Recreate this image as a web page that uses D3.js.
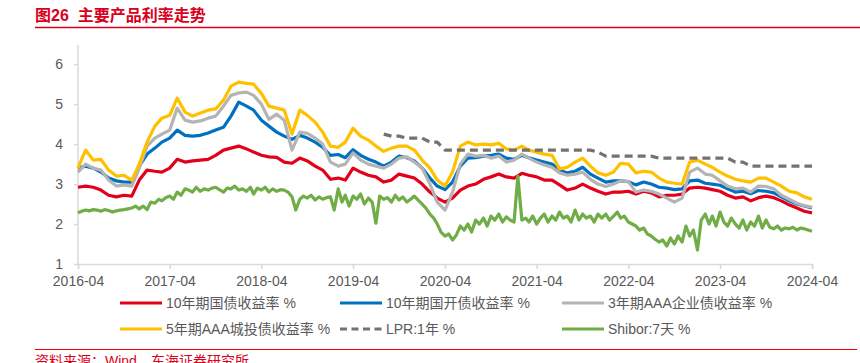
<!DOCTYPE html>
<html>
<head>
<meta charset="utf-8">
<script src="https://cdn.jsdelivr.net/npm/d3@7"></script>
<style>
  body { margin: 0; background: #fff; }
  text { font-family: "Liberation Sans", "Noto Sans CJK SC", sans-serif; }
</style>
</head>
<body>
<svg id="chart" width="860" height="363"></svg>
<script>
// monthly, 2016-04 .. 2024-04
let cgb10 = [2.92,2.95,2.92,2.85,2.72,2.68,2.72,2.70,3.10,3.35,3.32,3.30,3.40,3.62,3.55,3.58,3.60,3.62,3.72,3.85,3.90,3.95,3.88,3.80,
  3.72,3.68,3.67,3.55,3.52,3.65,3.58,3.45,3.35,3.12,3.15,3.10,3.40,3.30,3.22,3.18,3.05,3.10,3.25,3.20,3.15,3.00,2.80,2.65,
  2.55,2.65,2.85,2.95,3.00,3.12,3.18,3.25,3.18,3.15,3.27,3.22,3.18,3.10,3.10,2.98,2.85,2.90,3.00,2.90,2.82,2.75,2.80,2.80,
  2.82,2.75,2.82,2.78,2.68,2.72,2.72,2.75,2.90,2.92,2.90,2.86,2.82,2.72,2.65,2.68,2.58,2.66,2.70,2.66,2.58,2.48,2.40,2.32,2.28];
let cdb10 = [3.40,3.45,3.40,3.30,3.15,3.08,3.05,3.05,3.45,3.75,3.90,4.05,4.15,4.35,4.22,4.20,4.22,4.28,4.35,4.42,4.70,5.05,4.95,4.85,
  4.60,4.45,4.30,4.20,4.12,4.22,4.15,4.05,3.92,3.72,3.74,3.66,3.86,3.72,3.62,3.55,3.45,3.55,3.70,3.66,3.58,3.40,3.15,2.95,
  2.86,3.05,3.45,3.65,3.66,3.70,3.72,3.75,3.65,3.62,3.72,3.66,3.60,3.55,3.50,3.35,3.28,3.32,3.42,3.25,3.15,3.05,3.08,3.08,
  3.06,2.98,3.05,3.00,2.92,2.90,2.86,2.88,3.08,3.10,3.02,3.00,2.97,2.88,2.80,2.82,2.76,2.84,2.82,2.78,2.68,2.58,2.50,2.45,2.40];
let corp3 = [3.30,3.50,3.40,3.35,3.10,2.95,2.98,2.95,3.40,3.95,4.15,4.25,4.35,4.90,4.60,4.55,4.58,4.65,4.70,4.95,5.22,5.28,5.30,5.22,
  5.00,4.62,4.75,4.60,3.85,4.30,4.27,4.15,4.00,3.55,3.45,3.50,3.78,3.60,3.50,3.45,3.40,3.50,3.65,3.68,3.55,3.40,3.00,2.55,
  2.35,2.80,3.50,3.75,3.70,3.72,3.65,3.70,3.55,3.60,3.75,3.65,3.55,3.48,3.42,3.28,3.22,3.25,3.30,3.12,3.00,2.94,3.00,3.08,
  3.06,2.80,2.85,2.82,2.75,2.65,2.55,2.65,3.30,3.40,3.25,3.22,3.08,2.95,2.88,2.90,2.80,2.95,2.94,2.88,2.72,2.62,2.52,2.46,2.42];
let ucb5 = [3.40,3.85,3.60,3.62,3.35,3.20,3.22,3.10,3.50,4.05,4.45,4.65,4.72,5.15,4.80,4.70,4.78,4.85,4.88,5.10,5.45,5.55,5.52,5.50,
  5.27,4.95,4.90,4.85,4.25,4.85,4.72,4.55,4.30,3.95,3.92,4.05,4.40,4.20,4.10,3.95,3.82,3.90,3.95,3.95,3.85,3.60,3.40,3.10,
  2.95,3.30,3.95,4.05,3.98,4.00,3.98,4.02,3.88,3.85,3.95,3.85,3.80,3.75,3.72,3.38,3.42,3.55,3.65,3.45,3.28,3.22,3.30,3.52,
  3.50,3.28,3.32,3.30,3.15,3.05,3.02,3.00,3.55,3.60,3.50,3.42,3.30,3.20,3.12,3.08,3.05,3.15,3.15,3.05,2.95,2.82,2.78,2.68,2.62];
// monthly, 2019-08 .. 2024-04
let lpr1y = [4.25,4.20,4.20,4.15,4.15,4.15,4.05,4.05,3.85,3.85,3.85,3.85,3.85,3.85,3.85,3.85,3.85,3.85,3.85,3.85,3.85,3.85,3.85,3.85,
  3.85,3.85,3.85,3.85,3.80,3.70,3.70,3.70,3.70,3.70,3.70,3.70,3.65,3.65,3.65,3.65,3.65,3.65,3.65,3.65,3.65,3.65,3.55,3.55,
  3.45,3.45,3.45,3.45,3.45,3.45,3.45,3.45,3.45];
// half-monthly, 2016-04 .. 2024-04
let shibor7d = [2.28,2.32,2.35,2.33,2.36,2.35,2.32,2.36,2.34,2.30,2.33,2.35,2.36,2.38,2.40,2.45,2.38,2.45,
  2.36,2.55,2.52,2.62,2.58,2.66,2.70,2.62,2.80,2.72,2.88,2.85,2.80,2.92,2.82,2.88,2.85,2.90,2.92,2.86,2.80,2.90,2.88,2.95,
  2.85,2.88,2.82,2.92,2.75,2.90,2.85,2.92,2.80,2.88,2.82,2.86,2.85,2.80,2.68,2.35,2.62,2.70,2.65,2.72,2.60,2.68,2.62,2.66,
  2.68,2.35,2.88,2.55,2.72,2.45,2.70,2.62,2.75,2.50,2.65,2.55,2.02,2.70,2.62,2.66,2.55,2.72,2.60,2.68,2.55,2.62,2.70,2.60,
  2.50,2.40,2.25,2.15,2.00,1.80,1.70,1.75,1.60,1.72,1.95,1.85,2.00,1.80,2.10,2.00,2.15,1.95,2.20,2.10,2.25,2.05,2.18,2.10,
  2.05,3.20,2.10,2.15,2.05,2.20,2.00,2.15,2.25,2.05,2.20,2.10,2.30,2.15,2.20,2.05,2.35,2.10,2.25,2.15,2.20,2.05,2.25,2.15,
  2.25,2.10,2.20,2.30,2.15,2.20,2.05,2.00,1.95,1.85,1.90,1.75,1.70,1.62,1.55,1.60,1.45,1.65,1.50,1.70,1.55,1.95,1.70,1.85,
  1.35,2.10,2.25,2.00,2.20,1.95,2.30,2.05,1.95,2.15,2.00,1.90,2.10,1.85,2.05,1.95,2.20,1.90,2.10,1.92,1.88,1.95,1.85,1.90,
  1.88,1.92,1.85,1.90,1.88,1.85,1.82];

let xTickLabels = ["2016-04","2017-04","2018-04","2019-04","2020-04","2021-04","2022-04","2023-04","2024-04"];
let yTicks = [1, 2, 3, 4, 5, 6];
let seriesNames = ["10年期国债收益率 %", "10年期国开债收益率 %", "3年期AAA企业债收益率 %",
  "5年期AAA城投债收益率 %", "LPR:1年 %", "Shibor:7天 %"];
let seriesColors = ["#e3001b", "#0070c0", "#b4b4b4", "#ffc000", "#767171", "#70ad47"];

let svg = d3.select("#chart");
let parseMonth = d3.timeParse("%Y-%m");
let monthly = (start, n) => d3.range(n).map(i => new Date(start.getFullYear(), start.getMonth() + i, 1));
let halfMonthly = (start, n) => d3.range(n).map(j => new Date(start.getFullYear(), start.getMonth() + Math.floor(j / 2), j % 2 ? 16 : 1));

let x = d3.scaleTime()
  .domain([parseMonth("2016-04"), parseMonth("2024-04")])
  .range([78, 812]);
let y = d3.scaleLinear().domain([1, 6.48]).range([264, 45]);

// title + rules
svg.append("text").attr("x", 35).attr("y", 21)
  .attr("fill", "#d9001b").attr("font-size", 16).attr("font-weight", "bold")
  .style("white-space", "pre")
  .text("图26\u00a0\u00a0主要产品利率走势");
svg.append("line").attr("x1", 35).attr("x2", 860).attr("y1", 27.5).attr("y2", 27.5)
  .attr("stroke", "#d9001b").attr("stroke-width", 1.5);
svg.append("line").attr("x1", 35).attr("x2", 857).attr("y1", 349.5).attr("y2", 349.5)
  .attr("stroke", "#ff0000").attr("stroke-width", 1);
svg.append("text").attr("x", 35).attr("y", 366)
  .attr("fill", "#d9001b").attr("font-size", 14)
  .text("资料来源：Wind，东海证券研究所");

// axes
let xAxis = svg.append("g").attr("transform", "translate(0,264)")
  .call(d3.axisBottom(x).tickValues(xTickLabels.map(parseMonth))
    .tickFormat(d3.timeFormat("%Y-%m")).tickSize(5).tickPadding(7));
let yAxis = svg.append("g").attr("transform", "translate(78,0)")
  .call(d3.axisLeft(y).tickValues(yTicks).tickFormat(d3.format("d")).tickSize(4).tickPadding(11));
[xAxis, yAxis].forEach(a => {
  a.select(".domain").attr("stroke", "#d9d9d9").attr("stroke-width", 1.5);
  a.selectAll(".tick line").attr("stroke", "#d9d9d9").attr("stroke-width", 1.5);
  a.selectAll(".tick text").attr("fill", "#595959").attr("font-size", 14)
    .style("font-family", "'Liberation Sans', sans-serif");
});
yAxis.select(".domain").attr("d", `M0,${y(1)}V${y(6.48)}`);

// lines
let start = parseMonth("2016-04");
let seriesData = [
  { values: cgb10, dates: monthly(start, cgb10.length) },
  { values: cdb10, dates: monthly(start, cdb10.length) },
  { values: corp3, dates: monthly(start, corp3.length) },
  { values: ucb5, dates: monthly(start, ucb5.length) },
  { values: lpr1y, dates: monthly(parseMonth("2019-08"), lpr1y.length), dashed: true },
  { values: shibor7d, dates: halfMonthly(start, shibor7d.length) }
];
let line = d3.line().x(d => x(d[0])).y(d => y(d[1]));

seriesData.forEach((s, k) => {
  svg.append("path")
    .datum(d3.zip(s.dates, s.values))
    .attr("d", line)
    .attr("fill", "none")
    .attr("stroke", seriesColors[k])
    .attr("stroke-width", 3.2)
    .attr("stroke-linejoin", "round")
    .attr("stroke-dasharray", s.dashed ? "8,5" : null);
});

// legend
let legendCols = [120, 340, 562];
let legendRows = [303, 329];
seriesNames.forEach((name, k) => {
  let lx = legendCols[k % 3], ly = legendRows[Math.floor(k / 3)];
  let g = svg.append("g").attr("transform", `translate(${lx},${ly})`);
  g.append("line").attr("x1", 0).attr("x2", 42).attr("y1", 0).attr("y2", 0)
    .attr("stroke", seriesColors[k]).attr("stroke-width", 3)
    .attr("stroke-dasharray", seriesData[k].dashed ? "7,4.5" : null);
  g.append("text").attr("x", 46).attr("y", 0).attr("dy", "0.36em")
    .attr("fill", "#595959").attr("font-size", 14).text(name);
});
</script>
</body>
</html>
